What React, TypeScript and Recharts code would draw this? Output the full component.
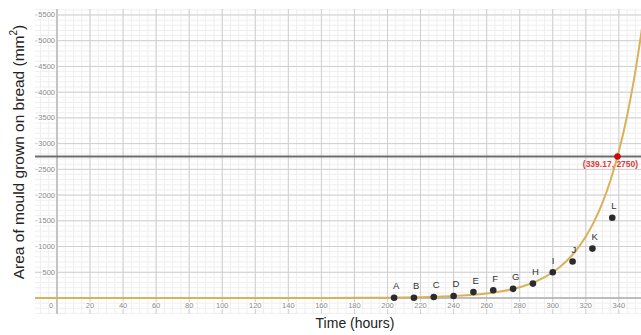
import { ComposedChart, Line, Scatter, XAxis, YAxis, CartesianGrid, ReferenceLine, ReferenceDot, LabelList } from "recharts"

// fitted curve
const curveX = [-14, 100, 150, 180, 200, 210, 220, 230, 240, 250, 260, 270, 280, 290, 300, 305, 310, 315, 320, 325, 330, 335, 340, 345, 350, 354]
const curveY = [0, 0.1, 0.7, 2.7, 6.4, 10, 15, 24, 37, 57, 88, 136, 209, 324, 500, 622, 773, 960, 1194, 1484, 1844, 2293, 2851, 3543, 4405, 5243]

// measured points
const pointNames = ["A", "B", "C", "D", "E", "F", "G", "H", "I", "J", "K", "L"]
const pointX = [204, 216, 228, 240, 252, 264, 276, 288, 300, 312, 324, 336]
const pointY = [4, 6, 20, 40, 115, 150, 178, 280, 500, 710, 960, 1560]

const xTicks = [0, 20, 40, 60, 80, 100, 120, 140, 160, 180, 200, 220, 240, 260, 280, 300, 320, 340]
const yTicks = [500, 1000, 1500, 2000, 2500, 3000, 3500, 4000, 4500, 5000, 5500]

const targetY = 2750
const crossX = 339.17

const X_DOMAIN = [-13.3, 353.4]
const Y_DOMAIN = [-311, 5616]

const curveData = curveX.map((x, i) => ({ x, y: curveY[i] }))
const pointData = pointX.map((x, i) => ({ x, y: pointY[i], name: pointNames[i] }))

const minorX: number[] = []
for (let v = -10; v <= 350; v += 5) minorX.push(v)
const minorY: number[] = []
for (let v = -300; v <= 5600; v += 100) minorY.push(v)
const majorX: number[] = []
for (let v = 0; v <= 340; v += 20) majorX.push(v)
const majorY: number[] = []
for (let v = 0; v <= 5500; v += 500) majorY.push(v)

const FONT = "'Liberation Sans', Arial, sans-serif"

function XTick(props: any) {
  const { x, payload } = props
  const v = payload.value
  return (
    <text x={x + (v === 0 ? -6 : 0)} y={308} textAnchor="middle" fontSize={7.5} fill="#888" fontFamily={FONT}
      stroke="#fff" strokeWidth={2} paintOrder="stroke">
      {v}
    </text>
  )
}

function YTick(props: any) {
  const { y, payload } = props
  return (
    <text x={55} y={y} dy={2.5} textAnchor="end" fontSize={7.5} fill="#888" fontFamily={FONT}
      stroke="#fff" strokeWidth={2} paintOrder="stroke">
      {payload.value}
    </text>
  )
}

function PointLabel(props: any) {
  const { x, y, value } = props
  return (
    <text x={x + 3.5} y={y - 4} fontSize={9.5} fill="#333" fontFamily={FONT}>{value}</text>
  )
}

function CrossLabel(props: any) {
  const { viewBox } = props
  const cx = viewBox.x + viewBox.width / 2
  const cy = viewBox.y + viewBox.height / 2
  return (
    <text x={cx - 7} y={cy + 11} textAnchor="middle" fontSize={8.5} fontWeight="bold" fill="#e53935" fontFamily={FONT}>
      ({crossX}, {targetY})
    </text>
  )
}

export default function App() {
  return (
    <div style={{ position: "absolute", left: 0, top: 0, width: 641, height: 335, background: "#fff", fontFamily: FONT }}>
      <ComposedChart width={641} height={335} margin={{ top: 9, right: 0, bottom: 0, left: 0 }}>
        <CartesianGrid verticalValues={minorX} horizontalValues={minorY} stroke="#efefef" strokeWidth={1} />
        <CartesianGrid verticalValues={majorX} horizontalValues={majorY} stroke="#cfcfcf" strokeWidth={1} />
        <XAxis type="number" dataKey="x" domain={X_DOMAIN} allowDataOverflow ticks={xTicks} interval={0}
          axisLine={false} tickLine={false} height={21} tick={<XTick />} />
        <YAxis type="number" dataKey="y" domain={Y_DOMAIN} allowDataOverflow ticks={yTicks} interval={0}
          axisLine={false} tickLine={false} width={35} tick={<YTick />} />
        <ReferenceLine x={0} stroke="#c4c4c4" strokeWidth={2} />
        <ReferenceLine y={0} stroke="#b0b0b0" strokeWidth={1.5} />
        <ReferenceLine y={targetY} stroke="#6e6e6e" strokeWidth={2} />
        <Line data={curveData} dataKey="y" type="monotone" stroke="#d8b25a" strokeWidth={2} dot={false} isAnimationActive={false} />
        <Scatter data={pointData} dataKey="y" fill="#2b2b2b" isAnimationActive={false}
          shape={(p: any) => <circle cx={p.cx} cy={p.cy} r={3.3} fill="#2b2b2b" />}>
          <LabelList dataKey="name" content={<PointLabel />} />
        </Scatter>
        <ReferenceDot x={crossX} y={targetY} r={3} fill="#e00000" stroke="#b00000" strokeWidth={0.5} label={<CrossLabel />} />
      </ComposedChart>
      <div style={{ position: "absolute", left: 355, top: 323, transform: "translate(-50%, -50%)", fontSize: 14, color: "#222", whiteSpace: "nowrap" }}>
        Time (hours)
      </div>
      <div style={{ position: "absolute", left: 18, top: 152, transform: "translate(-50%, -50%) rotate(-90deg)", fontSize: 15.5, color: "#222", whiteSpace: "nowrap" }}>
        Area of mould grown on bread (mm<sup style={{ fontSize: 10 }}>2</sup>)
      </div>
    </div>
  )
}
